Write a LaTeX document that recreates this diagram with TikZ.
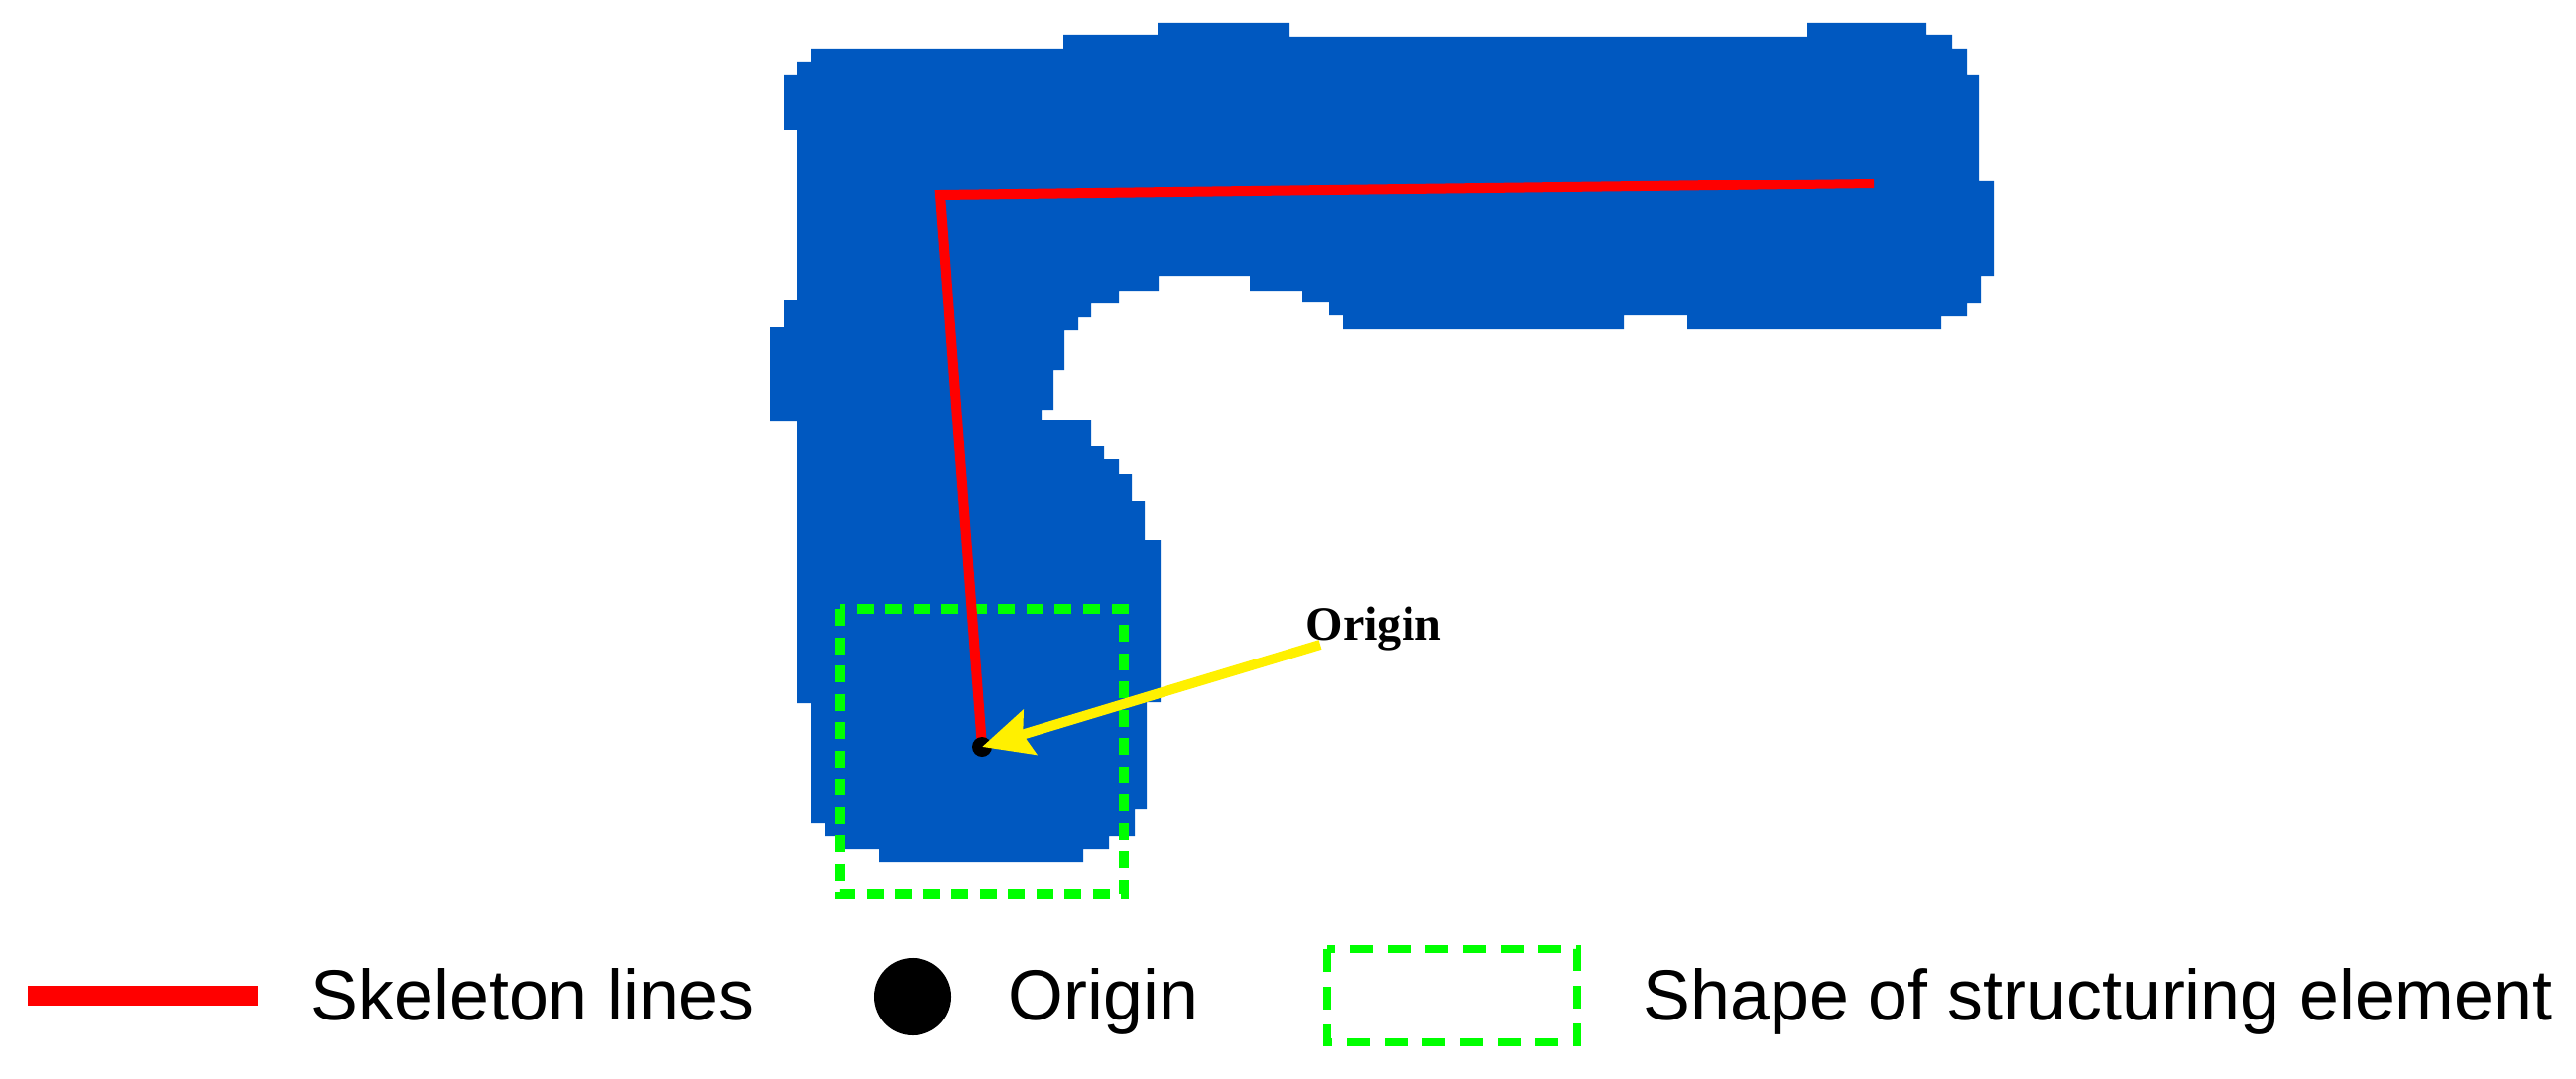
\documentclass[tikz,border=0pt]{standalone}
\usepackage{fontspec}
\setmainfont{Liberation Sans}
\newfontfamily\serifb{Liberation Serif}
\usetikzlibrary{arrows.meta}
\definecolor{blu}{RGB}{0,88,192}
\definecolor{verde}{RGB}{0,255,0}
\definecolor{giallo}{RGB}{255,240,0}

\begin{document}
\begin{tikzpicture}[x=0.01cm, y=-0.01cm,
    skel/.style={red, line width=0.1cm},
    sebox/.style={verde, line width=0.095cm, dash pattern=on 0.17cm off 0.115cm},
    legbox/.style={verde, line width=0.085cm, dash pattern=on 0.23cm off 0.15cm},
    dot/.style={circle, fill=black, inner sep=0pt, minimum size=0.2cm},
    arr/.style={giallo, line width=0.1cm, -{Stealth[length=0.5cm, width=0.46cm, inset=0.07cm]}},
    legtxt/.style={anchor=base west, inner sep=0pt, font=\fontsize{20.4}{24}\selectfont}]
    % Margini
    \useasboundingbox (0,0) rectangle (2597,1088);

    % Oggetto (blu)
    \fill[blu] (818,49) -- (1072,49) -- (1072,35) -- (1167,35) -- (1167,23) -- (1300,23)
        -- (1300,37) -- (1822,37) -- (1822,23) -- (1942,23) -- (1942,35) -- (1968,35)
        -- (1968,49) -- (1983,49) -- (1983,76) -- (1995,76) -- (1995,183) -- (2010,183)
        -- (2010,278) -- (1997,278) -- (1997,306) -- (1983,306) -- (1983,319) -- (1957,319)
        -- (1957,332) -- (1701,332) -- (1701,318) -- (1637,318) -- (1637,332) -- (1354,332)
        -- (1354,318) -- (1340,318) -- (1340,305) -- (1313,305) -- (1313,293) -- (1260,293)
        -- (1260,278) -- (1168,278) -- (1168,293) -- (1128,293) -- (1128,306) -- (1100,306)
        -- (1100,320) -- (1087,320) -- (1087,333) -- (1073,333) -- (1073,373) -- (1062,373)
        -- (1062,413) -- (1050,413) -- (1050,423) -- (1100,423) -- (1100,450) -- (1113,450)
        -- (1113,463) -- (1128,463) -- (1128,478) -- (1141,478) -- (1141,505) -- (1154,505)
        -- (1154,545) -- (1170,545) -- (1170,708) -- (1156,708) -- (1156,816) -- (1144,816)
        -- (1144,843) -- (1118,843) -- (1118,856) -- (1092,856) -- (1092,869) -- (886,869)
        -- (886,856) -- (845,856) -- (845,843) -- (832,843) -- (832,830) -- (818,830)
        -- (818,709) -- (804,709) -- (804,425) -- (776,425) -- (776,330) -- (790,330)
        -- (790,303) -- (804,303) -- (804,131) -- (790,131) -- (790,76) -- (804,76)
        -- (804,63) -- (818,63) -- cycle;

    % Elemento strutturante
    \draw[sebox] (847,614) rectangle (1133,901);

    % Linee scheletro
    \coordinate (sk1) at (1889,185);
    \coordinate (sk2) at (948,197);
    \coordinate (o) at (990,753);
    \draw[skel] (sk1) -- (sk2) -- (o);
    \node[dot] (orig) at (o) {};

    % Etichetta e freccia
    \node[anchor=base west, inner sep=0pt, font=\serifb\bfseries\fontsize{13.7}{16}\selectfont] (lbl) at (1316,645) {Origin};
    \coordinate (tail) at (1331,650);
    \draw[arr] (tail) -- (orig.center);

    % Legenda
    \coordinate (r1) at (28,1004);
    \coordinate (r2) at (260,1004);
    \draw[red, line width=0.2cm] (r1) -- (r2);
    \node[legtxt] (l1) at (313,1028) {Skeleton lines};
    \node[circle, fill=black, inner sep=0pt, minimum size=0.78cm] (ldot) at (920,1005) {};
    \node[legtxt] (l2) at (1016,1028) {Origin};
    \draw[legbox] (1338,957) rectangle (1590,1051);
    \node[legtxt] (l3) at (1656,1028) {Shape of structuring element};
\end{tikzpicture}
\end{document}
